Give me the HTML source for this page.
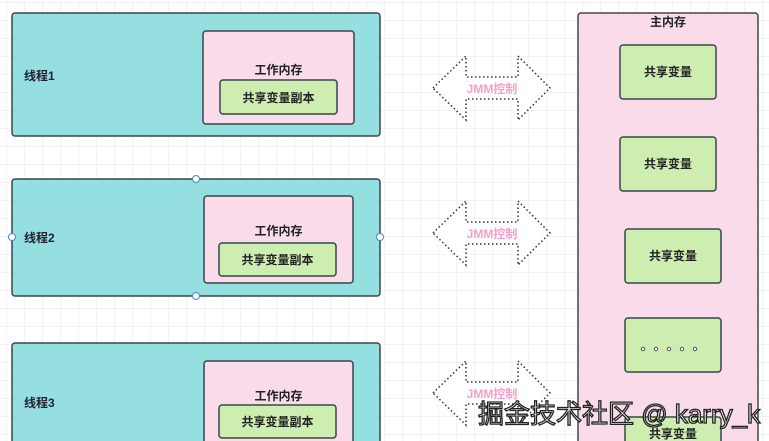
<!DOCTYPE html>
<html><head><meta charset="utf-8"><style>
html,body{margin:0;padding:0;background:#fff;width:769px;height:441px;overflow:hidden;}
svg{display:block;}
text{font-family:"Liberation Sans","Noto Sans CJK SC",sans-serif;font-weight:bold;}
</style></head><body>
<svg width="769" height="441" viewBox="0 0 769 441" xmlns="http://www.w3.org/2000/svg">
<defs>
<pattern id="g" width="18" height="18" patternUnits="userSpaceOnUse" x="7" y="3">
<path d="M18 0V18H0" fill="none" stroke="#e6e6e6" stroke-width="1"/>
</pattern>
</defs>
<rect width="769" height="441" fill="#fff"/>
<rect width="769" height="441" fill="url(#g)"/>

<!-- thread 1 -->
<rect x="12" y="13" width="368" height="123" rx="3" fill="#95dfe0" stroke="#37474a" stroke-width="1.5"/>
<text x="24" y="80" font-size="12" fill="#223">线程1</text>
<rect x="203" y="31" width="151" height="93" rx="3" fill="#fadbe9" stroke="#37474a" stroke-width="1.5"/>
<text x="278.5" y="74" font-size="12" fill="#222" text-anchor="middle">工作内存</text>
<rect x="220" y="80" width="117" height="34" rx="3" fill="#cdeeb0" stroke="#37474a" stroke-width="1.5"/>
<text x="278.5" y="102" font-size="12" fill="#222" text-anchor="middle">共享变量副本</text>

<!-- thread 2 -->
<rect x="12" y="179" width="368" height="117" rx="3" fill="#95dfe0" stroke="#37474a" stroke-width="1.5"/>
<text x="24" y="242" font-size="12" fill="#223">线程2</text>
<rect x="204" y="196" width="149" height="87" rx="3" fill="#fadbe9" stroke="#37474a" stroke-width="1.5"/>
<text x="278.5" y="235" font-size="12" fill="#222" text-anchor="middle">工作内存</text>
<rect x="219" y="243" width="117" height="33" rx="3" fill="#cdeeb0" stroke="#37474a" stroke-width="1.5"/>
<text x="277.5" y="264" font-size="12" fill="#222" text-anchor="middle">共享变量副本</text>
<g fill="#fff" stroke="#4a86c8" stroke-width="1">
<circle cx="196" cy="179" r="3.5"/><circle cx="196" cy="296" r="3.5"/>
<circle cx="12" cy="237" r="3.5"/><circle cx="380" cy="237" r="3.5"/>
</g>

<!-- thread 3 -->
<path d="M12 441V346a3 3 0 0 1 3-3H377a3 3 0 0 1 3 3V441" fill="#95dfe0" stroke="#37474a" stroke-width="1.5"/>
<text x="24" y="407" font-size="12" fill="#223">线程3</text>
<path d="M204 441V364a3 3 0 0 1 3-3H350a3 3 0 0 1 3 3V441" fill="#fadbe9" stroke="#37474a" stroke-width="1.5"/>
<text x="278.5" y="400" font-size="12" fill="#222" text-anchor="middle">工作内存</text>
<rect x="219" y="405" width="117" height="33" rx="3" fill="#cdeeb0" stroke="#37474a" stroke-width="1.5"/>
<text x="277.5" y="426" font-size="12" fill="#222" text-anchor="middle">共享变量副本</text>

<!-- arrows -->
<g fill="#fff" stroke="#333" stroke-width="1.5" stroke-dasharray="1.5 2.5">
<polygon points="433,88 466,56 466,77 518,77 518,56 550,88 518,120 518,99 466,99 466,120"/>
<polygon points="433,233 466,201 466,222 518,222 518,201 550,233 518,265 518,244 466,244 466,265"/>
<polygon points="433,393 466,361 466,382 518,382 518,361 550,393 518,425 518,404 466,404 466,425"/>
</g>
<g font-size="12" fill="#f0a0c8" text-anchor="middle">
<text x="492" y="93">JMM控制</text>
<text x="492" y="238">JMM控制</text>
<text x="492" y="398">JMM控制</text>
</g>

<!-- main memory -->
<path d="M578 441V16a3 3 0 0 1 3-3H755a3 3 0 0 1 3 3V441" fill="#fadbe9" stroke="#444" stroke-width="1.5"/>
<text x="668" y="26" font-size="12" fill="#222" text-anchor="middle">主内存</text>
<g fill="#cdeeb0" stroke="#37474a" stroke-width="1.5">
<rect x="620" y="45" width="96" height="54" rx="3"/>
<rect x="620" y="137" width="96" height="54" rx="3"/>
<rect x="625" y="229" width="96" height="54" rx="3"/>
<rect x="625" y="318" width="96" height="54" rx="3"/>
<rect x="625" y="417" width="96" height="40" rx="3"/>
</g>
<g font-size="12" fill="#222" text-anchor="middle">
<text x="668" y="76">共享变量</text>
<text x="668" y="168">共享变量</text>
<text x="673" y="260">共享变量</text>
<text x="673" y="438">共享变量</text>
</g>
<g fill="#fff" stroke="#555" stroke-width="1">
<circle cx="643" cy="349" r="1.7"/><circle cx="656" cy="349" r="1.7"/><circle cx="669" cy="349" r="1.7"/><circle cx="682" cy="349" r="1.7"/><circle cx="695" cy="349" r="1.7"/>
</g>

<!-- watermark -->
<text x="478" y="423" font-size="26" fill="#fff" stroke="#222" stroke-width="1.3" style="font-weight:normal">掘金技术社区 @ karry_k</text>
</svg>
</body></html>
